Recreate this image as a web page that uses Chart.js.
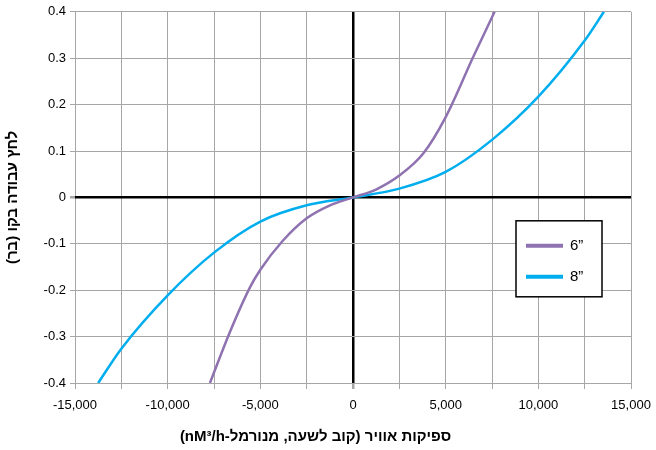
<!DOCTYPE html>
<html>
<head>
<meta charset="utf-8">
<script src="https://cdn.jsdelivr.net/npm/chart.js@4.4.0/dist/chart.umd.min.js"></script>
<style>
  html, body { margin: 0; padding: 0; background: #fff; }
  #wrap { width: 656px; height: 450px; }
</style>
</head>
<body>
<div id="wrap"><canvas id="myChart"></canvas></div>
<script>
// values (x = nM3/h, y = bar)
const seriesNames = ['6\u201D', '8\u201D'];
const pipe6 = [
  [-7720, -0.4], [-6640, -0.29], [-5560, -0.194], [-5000, -0.156], [-3800, -0.094],
  [-2500, -0.045], [-1240, -0.017], [0, 0], [1240, 0.017], [2500, 0.047],
  [3800, 0.095], [5000, 0.173], [6490, 0.303], [7640, 0.4]
];
const pipe8 = [
  [-13750, -0.4], [-12500, -0.326], [-10000, -0.211], [-7500, -0.119], [-5000, -0.052],
  [-2500, -0.017], [0, 0], [2500, 0.019], [5000, 0.055], [7500, 0.124],
  [10000, 0.217], [12500, 0.338], [13540, 0.4]
];
const xTicks = [-15000, -10000, -5000, 0, 5000, 10000, 15000];
const yTicks = [-0.4, -0.3, -0.2, -0.1, 0, 0.1, 0.2, 0.3, 0.4];
const xTitle = 'ספיקות אוויר (קוב לשעה, מנורמל-nM\u00B3/h)';
const yTitle = 'לחץ עבודה בקו (בר)';

const colors = ['#8f72b0', '#00aeef'];
const fontFamily = '"Liberation Sans", Arial, sans-serif';

function toPoints(arr) {
  return arr.map(function(p) { return { x: p[0], y: p[1] }; });
}

// legend drawn as a framed box inside the plot, like the original
const boxLegend = {
  id: 'boxLegend',
  afterDraw: function(chart) {
    const ctx = chart.ctx;
    const a = chart.chartArea;
    const left = a.right - 115, top = a.top + 209, w = 86, h = 76;
    ctx.save();
    ctx.fillStyle = '#fff';
    ctx.fillRect(left, top, w, h);
    ctx.strokeStyle = '#000';
    ctx.lineWidth = 1.5;
    ctx.strokeRect(left, top, w, h);
    ctx.font = '15px ' + fontFamily;
    ctx.textBaseline = 'middle';
    seriesNames.forEach(function(name, i) {
      const y = top + 25 + i * 31;
      ctx.strokeStyle = colors[i];
      ctx.lineWidth = 4;
      ctx.beginPath();
      ctx.moveTo(left + 10, y);
      ctx.lineTo(left + 47, y);
      ctx.stroke();
      ctx.fillStyle = '#000';
      ctx.fillText(name, left + 54, y);
    });
    ctx.restore();
  }
};

function gridColor(ctx) {
  return ctx.tick && ctx.tick.value === 0 ? '#000' : '#a6a6a6';
}
function gridWidth(ctx) {
  return ctx.tick && ctx.tick.value === 0 ? 2.5 : 1;
}

const data = {
  datasets: [{
    label: seriesNames[0],
    data: toPoints(pipe6),
    borderColor: colors[0],
    backgroundColor: colors[0],
    borderWidth: 2.5,
    showLine: true,
    pointRadius: 0,
    cubicInterpolationMode: 'monotone'
  }, {
    label: seriesNames[1],
    data: toPoints(pipe8),
    borderColor: colors[1],
    backgroundColor: colors[1],
    borderWidth: 2.5,
    showLine: true,
    pointRadius: 0,
    cubicInterpolationMode: 'monotone'
  }]
};

const config = {
  type: 'scatter',
  data: data,
  options: {
    responsive: true,
    maintainAspectRatio: false,
    animation: false,
    layout: { padding: { left: 0, right: 25, top: 4, bottom: 0 } },
    plugins: {
      legend: { display: false },
      tooltip: { enabled: false },
      title: {
        display: true,
        position: 'bottom',
        text: '\u202B' + xTitle + '\u202C',
        color: '#000',
        padding: { top: 0, bottom: 4 },
        font: { family: fontFamily, size: 15, weight: 'bold' }
      }
    },
    scales: {
      x: {
        type: 'linear',
        min: xTicks[0],
        max: xTicks[xTicks.length - 1],
        afterFit: function(scale) {
          scale.height = 45;
          scale.paddingLeft = 0;
          scale.paddingRight = 0;
        },
        ticks: {
          stepSize: 2500,
          autoSkip: false,
          maxRotation: 0,
          color: '#000',
          padding: 9,
          font: { family: fontFamily, size: 13 },
          callback: function(v) {
            return xTicks.indexOf(v) >= 0 ? v.toLocaleString('en-US') : '';
          }
        },
        grid: { color: gridColor, lineWidth: gridWidth, tickLength: 6, tickColor: '#a6a6a6' },
        border: { display: false }
      },
      y: {
        min: yTicks[0],
        max: yTicks[yTicks.length - 1],
        afterFit: function(scale) { scale.width = 75; },
        ticks: {
          stepSize: 0.1,
          color: '#000',
          padding: 4,
          font: { family: fontFamily, size: 13 },
          callback: function(v) {
            const r = Math.round(v * 10) / 10;
            return r === 0 ? '0' : r.toFixed(1);
          }
        },
        grid: { color: gridColor, lineWidth: gridWidth, tickLength: 5, tickColor: '#a6a6a6' },
        border: { display: false },
        title: {
          display: true,
          text: yTitle,
          color: '#000',
          padding: { top: 4, bottom: 0 },
          font: { family: fontFamily, size: 15, weight: 'bold' }
        }
      }
    }
  },
  plugins: [boxLegend]
};

var myChart = new Chart(document.getElementById('myChart'), config);
</script>
</body>
</html>
